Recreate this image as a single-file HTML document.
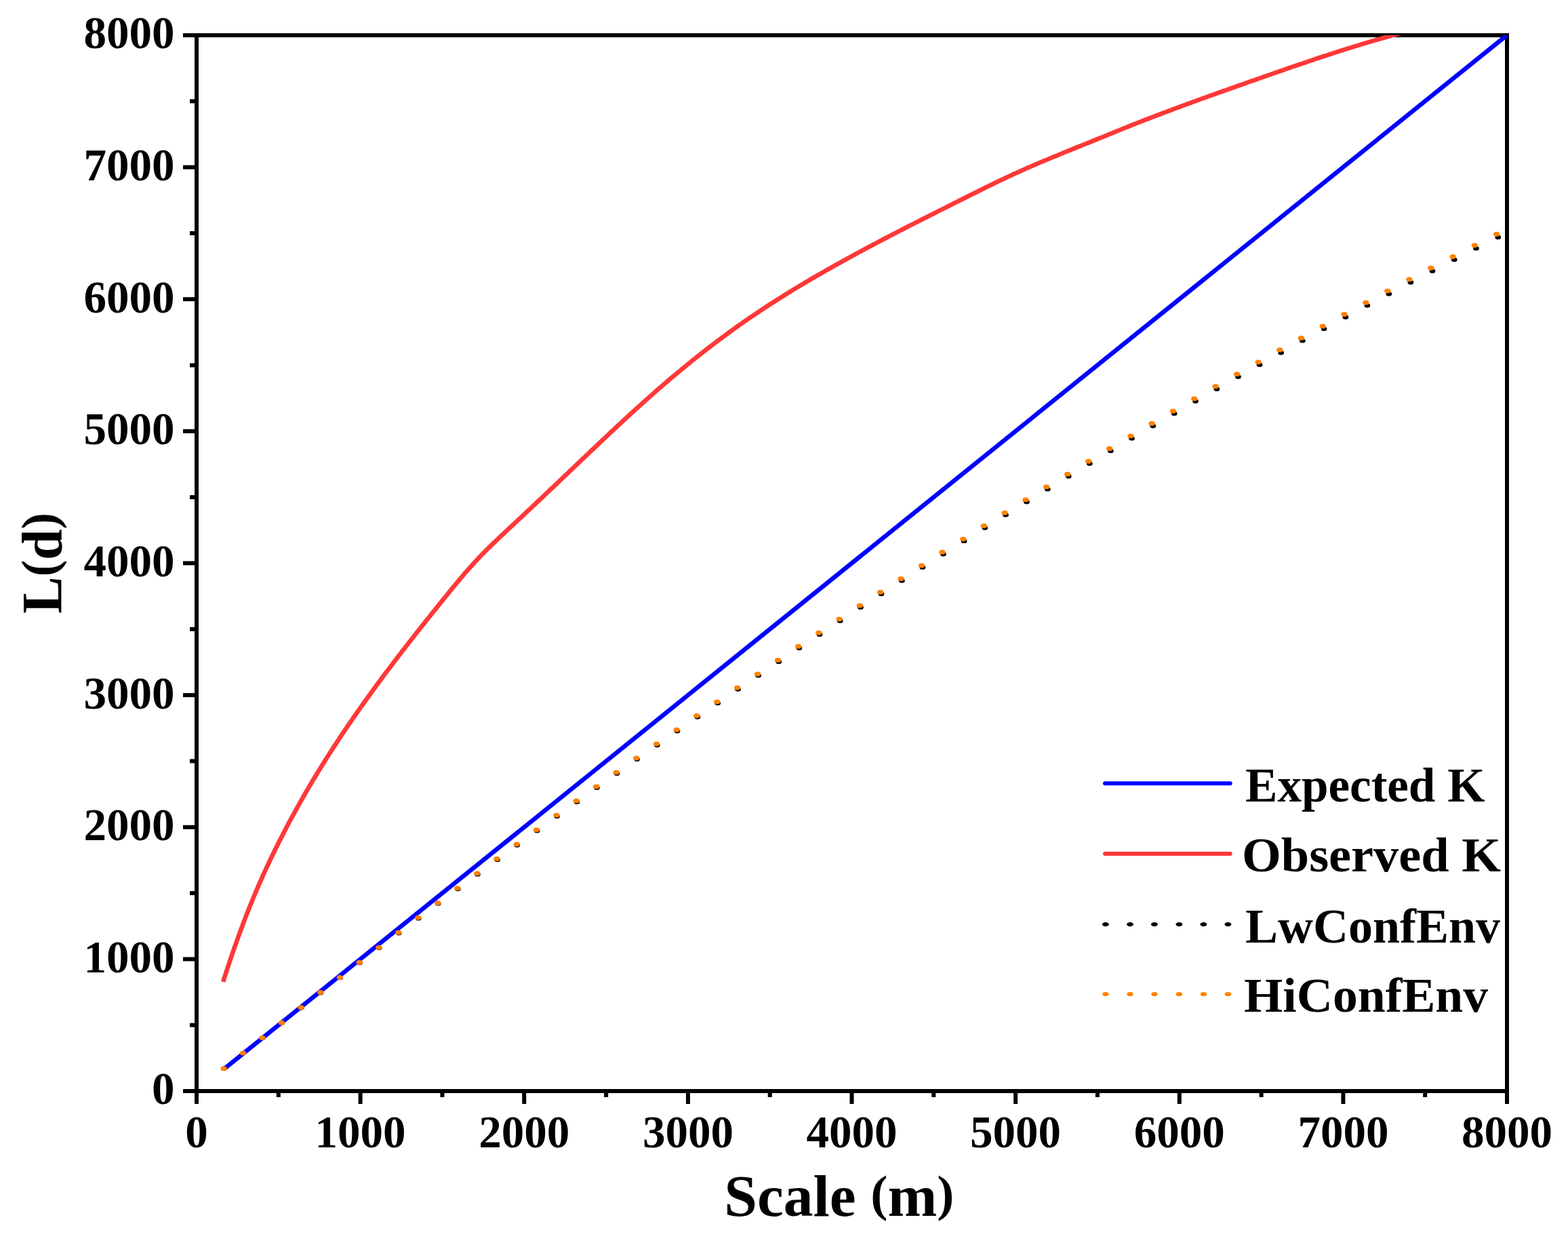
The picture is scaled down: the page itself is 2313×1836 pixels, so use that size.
<!DOCTYPE html>
<html><head><meta charset="utf-8"><title>L(d) vs Scale</title>
<style>
html,body{margin:0;padding:0;background:#fff;}
body{width:2313px;height:1836px;overflow:hidden;}
svg{display:block;}
.tk text{font-family:"Liberation Serif",serif;font-weight:bold;font-size:67px;fill:#000;}
.ttl{font-family:"Liberation Serif",serif;font-weight:bold;fill:#000;}
</style></head><body>
<svg width="2313" height="1836" viewBox="0 0 2313 1836">
<rect x="0" y="0" width="2313" height="1836" fill="#fff"/>
<g stroke="#000" stroke-width="6" stroke-linecap="butt">
<line x1="290.0" y1="1609.0" x2="290.0" y2="1628" />
<line x1="290.0" y1="1609.0" x2="270" y2="1609.0" />
<line x1="531.6" y1="1609.0" x2="531.6" y2="1628" />
<line x1="290.0" y1="1414.4" x2="270" y2="1414.4" />
<line x1="773.2" y1="1609.0" x2="773.2" y2="1628" />
<line x1="290.0" y1="1219.8" x2="270" y2="1219.8" />
<line x1="1014.9" y1="1609.0" x2="1014.9" y2="1628" />
<line x1="290.0" y1="1025.1" x2="270" y2="1025.1" />
<line x1="1256.5" y1="1609.0" x2="1256.5" y2="1628" />
<line x1="290.0" y1="830.5" x2="270" y2="830.5" />
<line x1="1498.1" y1="1609.0" x2="1498.1" y2="1628" />
<line x1="290.0" y1="635.9" x2="270" y2="635.9" />
<line x1="1739.8" y1="1609.0" x2="1739.8" y2="1628" />
<line x1="290.0" y1="441.2" x2="270" y2="441.2" />
<line x1="1981.4" y1="1609.0" x2="1981.4" y2="1628" />
<line x1="290.0" y1="246.6" x2="270" y2="246.6" />
<line x1="2223.0" y1="1609.0" x2="2223.0" y2="1628" />
<line x1="290.0" y1="52.0" x2="270" y2="52.0" />
<line x1="410.8" y1="1609.0" x2="410.8" y2="1618" />
<line x1="290.0" y1="1511.7" x2="280" y2="1511.7" />
<line x1="652.4" y1="1609.0" x2="652.4" y2="1618" />
<line x1="290.0" y1="1317.1" x2="280" y2="1317.1" />
<line x1="894.1" y1="1609.0" x2="894.1" y2="1618" />
<line x1="290.0" y1="1122.4" x2="280" y2="1122.4" />
<line x1="1135.7" y1="1609.0" x2="1135.7" y2="1618" />
<line x1="290.0" y1="927.8" x2="280" y2="927.8" />
<line x1="1377.3" y1="1609.0" x2="1377.3" y2="1618" />
<line x1="290.0" y1="733.2" x2="280" y2="733.2" />
<line x1="1618.9" y1="1609.0" x2="1618.9" y2="1618" />
<line x1="290.0" y1="538.6" x2="280" y2="538.6" />
<line x1="1860.6" y1="1609.0" x2="1860.6" y2="1618" />
<line x1="290.0" y1="343.9" x2="280" y2="343.9" />
<line x1="2102.2" y1="1609.0" x2="2102.2" y2="1618" />
<line x1="290.0" y1="149.3" x2="280" y2="149.3" />
</g>
<rect x="290.0" y="52.0" width="1933.0" height="1557.0" fill="none" stroke="#000" stroke-width="6"/>
<defs><clipPath id="pa"><rect x="290.0" y="52.0" width="1933.8" height="1557.0"/></clipPath></defs>
<g clip-path="url(#pa)">
<path d="M329.8,1577.0 L2226.0,49.4" stroke="#0000FF" stroke-width="6.5" fill="none" stroke-linecap="butt"/>
<path d="M329.5,1448.0 L330.2,1444.2 L331.4,1440.5 L332.7,1436.7 L333.9,1432.9 L335.1,1429.2 L336.4,1425.4 L337.6,1421.7 L338.9,1417.9 L340.1,1414.2 L341.4,1410.4 L342.7,1406.7 L343.9,1403.0 L345.2,1399.3 L346.5,1395.5 L347.8,1391.8 L349.2,1388.1 L350.5,1384.4 L351.8,1380.7 L353.2,1377.0 L354.5,1373.3 L355.9,1369.6 L357.3,1365.9 L358.6,1362.3 L360.0,1358.6 L361.4,1354.9 L362.8,1351.2 L364.3,1347.6 L365.7,1343.9 L367.1,1340.3 L368.6,1336.6 L370.1,1333.0 L371.6,1329.3 L373.0,1325.7 L374.5,1322.1 L376.1,1318.4 L377.6,1314.8 L379.1,1311.2 L380.7,1307.6 L382.2,1304.0 L383.8,1300.4 L385.4,1296.8 L387.0,1293.2 L388.6,1289.6 L390.2,1286.0 L391.9,1282.5 L393.5,1278.9 L395.2,1275.3 L396.9,1271.8 L398.5,1268.2 L400.2,1264.6 L401.9,1261.1 L403.7,1257.6 L405.4,1254.0 L407.1,1250.5 L408.9,1247.0 L410.6,1243.4 L412.4,1239.9 L414.2,1236.4 L416.0,1232.9 L417.8,1229.4 L419.6,1225.9 L421.4,1222.4 L423.2,1218.9 L425.1,1215.4 L426.9,1211.9 L428.8,1208.5 L430.7,1205.0 L432.6,1201.5 L434.5,1198.1 L436.4,1194.6 L438.3,1191.2 L440.2,1187.7 L442.1,1184.3 L444.1,1180.9 L446.0,1177.5 L448.0,1174.0 L449.9,1170.6 L451.9,1167.2 L453.9,1163.8 L455.9,1160.4 L457.9,1157.0 L459.9,1153.6 L461.9,1150.2 L464.0,1146.9 L466.0,1143.5 L468.1,1140.1 L470.1,1136.8 L472.2,1133.4 L474.3,1130.1 L476.3,1126.7 L478.4,1123.4 L480.5,1120.0 L482.6,1116.7 L484.8,1113.4 L486.9,1110.1 L489.0,1106.8 L491.1,1103.5 L493.3,1100.2 L495.4,1096.9 L497.6,1093.6 L499.8,1090.3 L501.9,1087.0 L504.1,1083.7 L506.3,1080.5 L508.5,1077.2 L510.7,1074.0 L512.9,1070.7 L515.1,1067.5 L517.4,1064.2 L519.6,1061.0 L521.8,1057.7 L524.1,1054.5 L526.3,1051.3 L528.6,1048.1 L530.8,1044.9 L533.1,1041.6 L535.4,1038.4 L537.7,1035.2 L540.0,1032.0 L542.3,1028.9 L544.5,1025.7 L546.9,1022.5 L549.2,1019.3 L551.5,1016.1 L553.8,1012.9 L556.1,1009.8 L558.5,1006.6 L560.8,1003.5 L563.1,1000.3 L565.5,997.1 L567.8,994.0 L570.2,990.8 L572.6,987.7 L574.9,984.6 L577.3,981.4 L579.7,978.3 L582.1,975.1 L584.4,972.0 L586.8,968.9 L589.2,965.8 L591.6,962.7 L594.0,959.5 L596.4,956.4 L598.9,953.3 L601.3,950.2 L603.7,947.1 L606.1,944.0 L608.5,940.9 L611.0,937.8 L613.4,934.7 L615.8,931.6 L618.3,928.5 L620.7,925.4 L623.2,922.3 L625.6,919.2 L628.1,916.1 L630.5,913.0 L633.0,910.0 L635.5,906.9 L637.9,903.8 L640.4,900.7 L642.9,897.6 L645.4,894.6 L647.8,891.5 L650.3,888.4 L652.8,885.3 L655.3,882.3 L657.8,879.2 L660.3,876.1 L662.8,873.1 L665.2,870.0 L667.7,866.9 L670.3,863.9 L672.8,860.8 L675.3,857.8 L677.8,854.8 L680.3,851.8 L682.9,848.8 L685.4,845.8 L688.0,842.9 L690.6,839.9 L693.2,837.0 L695.8,834.1 L698.4,831.2 L701.1,828.3 L703.7,825.5 L706.4,822.6 L709.1,819.8 L711.8,817.0 L714.5,814.2 L717.3,811.5 L720.1,808.7 L722.9,806.0 L725.7,803.2 L728.5,800.5 L731.3,797.8 L734.2,795.1 L737.0,792.4 L739.9,789.7 L742.8,787.0 L745.6,784.3 L748.5,781.6 L751.4,778.9 L754.3,776.3 L757.2,773.6 L760.1,770.9 L762.9,768.2 L765.8,765.5 L768.7,762.8 L771.6,760.1 L774.4,757.4 L777.3,754.7 L780.2,752.0 L783.1,749.3 L785.9,746.6 L788.8,743.9 L791.7,741.2 L794.5,738.5 L797.4,735.8 L800.3,733.1 L803.1,730.4 L806.0,727.6 L808.9,724.9 L811.7,722.2 L814.6,719.5 L817.5,716.8 L820.3,714.1 L823.2,711.3 L826.0,708.6 L828.9,705.9 L831.8,703.2 L834.6,700.5 L837.5,697.8 L840.3,695.0 L843.2,692.3 L846.0,689.6 L848.9,686.9 L851.7,684.2 L854.6,681.5 L857.4,678.7 L860.3,676.0 L863.2,673.3 L866.0,670.6 L868.9,667.9 L871.7,665.2 L874.6,662.5 L877.4,659.8 L880.3,657.1 L883.1,654.3 L886.0,651.6 L888.9,648.9 L891.7,646.2 L894.6,643.6 L897.5,640.9 L900.3,638.2 L903.2,635.5 L906.1,632.8 L908.9,630.1 L911.8,627.4 L914.7,624.8 L917.6,622.1 L920.5,619.4 L923.4,616.8 L926.3,614.1 L929.2,611.4 L932.1,608.8 L935.0,606.1 L937.9,603.5 L940.8,600.8 L943.7,598.2 L946.6,595.6 L949.5,593.0 L952.5,590.3 L955.4,587.7 L958.3,585.1 L961.3,582.5 L964.2,579.9 L967.2,577.3 L970.1,574.7 L973.1,572.1 L976.1,569.6 L979.0,567.0 L982.0,564.4 L985.0,561.9 L988.0,559.3 L991.0,556.8 L994.0,554.2 L997.0,551.7 L1000.0,549.2 L1003.1,546.7 L1006.1,544.2 L1009.1,541.7 L1012.2,539.2 L1015.2,536.7 L1018.3,534.2 L1021.3,531.7 L1024.4,529.3 L1027.5,526.8 L1030.6,524.4 L1033.7,521.9 L1036.8,519.5 L1039.9,517.1 L1043.0,514.7 L1046.1,512.3 L1049.2,509.9 L1052.3,507.5 L1055.5,505.1 L1058.6,502.7 L1061.8,500.4 L1064.9,498.0 L1068.1,495.7 L1071.3,493.3 L1074.4,491.0 L1077.6,488.7 L1080.8,486.4 L1084.0,484.1 L1087.2,481.8 L1090.4,479.5 L1093.6,477.3 L1096.9,475.0 L1100.1,472.8 L1103.3,470.5 L1106.6,468.3 L1109.8,466.1 L1113.1,463.9 L1116.3,461.7 L1119.6,459.5 L1122.9,457.3 L1126.2,455.2 L1129.4,453.0 L1132.7,450.9 L1136.0,448.7 L1139.4,446.6 L1142.7,444.5 L1146.0,442.4 L1149.3,440.3 L1152.6,438.2 L1156.0,436.1 L1159.3,434.0 L1162.7,431.9 L1166.0,429.9 L1169.4,427.8 L1172.7,425.8 L1176.1,423.7 L1179.5,421.7 L1182.8,419.7 L1186.2,417.7 L1189.6,415.7 L1193.0,413.7 L1196.4,411.7 L1199.8,409.7 L1203.2,407.7 L1206.6,405.7 L1210.0,403.8 L1213.4,401.8 L1216.8,399.9 L1220.3,397.9 L1223.7,396.0 L1227.1,394.1 L1230.5,392.1 L1234.0,390.2 L1237.4,388.3 L1240.9,386.4 L1244.3,384.5 L1247.8,382.6 L1251.2,380.7 L1254.7,378.8 L1258.1,376.9 L1261.6,375.0 L1265.0,373.1 L1268.5,371.3 L1272.0,369.4 L1275.5,367.5 L1278.9,365.7 L1282.4,363.8 L1285.9,362.0 L1289.4,360.1 L1292.8,358.3 L1296.3,356.5 L1299.8,354.6 L1303.3,352.8 L1306.8,351.0 L1310.3,349.2 L1313.8,347.3 L1317.3,345.5 L1320.8,343.7 L1324.3,341.9 L1327.8,340.1 L1331.3,338.3 L1334.7,336.5 L1338.2,334.7 L1341.7,332.9 L1345.3,331.1 L1348.8,329.4 L1352.3,327.6 L1355.8,325.8 L1359.3,324.0 L1362.8,322.2 L1366.3,320.5 L1369.8,318.7 L1373.3,316.9 L1376.8,315.2 L1380.3,313.4 L1383.8,311.6 L1387.3,309.9 L1390.8,308.1 L1394.3,306.4 L1397.8,304.6 L1401.3,302.8 L1404.8,301.1 L1408.3,299.3 L1411.8,297.6 L1415.4,295.8 L1418.9,294.0 L1422.4,292.3 L1425.9,290.5 L1429.4,288.7 L1432.9,287.0 L1436.5,285.2 L1440.0,283.5 L1443.5,281.7 L1447.1,279.9 L1450.6,278.2 L1454.1,276.4 L1457.7,274.7 L1461.2,273.0 L1464.7,271.2 L1468.3,269.5 L1471.8,267.8 L1475.4,266.1 L1479.0,264.4 L1482.5,262.7 L1486.1,261.1 L1489.6,259.4 L1493.2,257.8 L1496.8,256.1 L1500.4,254.5 L1504.0,252.9 L1507.5,251.3 L1511.1,249.7 L1514.7,248.1 L1518.3,246.5 L1521.9,245.0 L1525.5,243.4 L1529.1,241.9 L1532.7,240.3 L1536.3,238.8 L1539.9,237.3 L1543.6,235.8 L1547.2,234.3 L1550.8,232.7 L1554.4,231.2 L1558.0,229.8 L1561.7,228.3 L1565.3,226.8 L1568.9,225.3 L1572.6,223.8 L1576.2,222.3 L1579.8,220.9 L1583.5,219.4 L1587.1,217.9 L1590.8,216.4 L1594.4,215.0 L1598.1,213.5 L1601.7,212.0 L1605.3,210.6 L1609.0,209.1 L1612.6,207.6 L1616.3,206.1 L1619.9,204.7 L1623.6,203.2 L1627.3,201.7 L1630.9,200.2 L1634.6,198.7 L1638.2,197.2 L1641.9,195.7 L1645.5,194.3 L1649.2,192.8 L1652.9,191.3 L1656.5,189.8 L1660.2,188.3 L1663.8,186.9 L1667.5,185.4 L1671.2,183.9 L1674.8,182.5 L1678.5,181.0 L1682.2,179.6 L1685.8,178.2 L1689.5,176.7 L1693.2,175.3 L1696.8,173.9 L1700.5,172.5 L1704.2,171.1 L1707.8,169.7 L1711.5,168.3 L1715.2,166.9 L1718.9,165.5 L1722.5,164.1 L1726.2,162.8 L1729.9,161.4 L1733.6,160.0 L1737.3,158.7 L1740.9,157.3 L1744.6,155.9 L1748.3,154.6 L1752.0,153.2 L1755.7,151.9 L1759.4,150.5 L1763.1,149.2 L1766.7,147.9 L1770.4,146.5 L1774.1,145.2 L1777.8,143.9 L1781.5,142.5 L1785.2,141.2 L1788.9,139.9 L1792.6,138.6 L1796.3,137.2 L1800.0,135.9 L1803.7,134.6 L1807.4,133.3 L1811.1,132.0 L1814.8,130.7 L1818.5,129.4 L1822.2,128.1 L1825.9,126.7 L1829.6,125.4 L1833.3,124.1 L1837.0,122.8 L1840.7,121.5 L1844.4,120.2 L1848.2,118.9 L1851.9,117.6 L1855.6,116.3 L1859.3,115.0 L1863.0,113.7 L1866.7,112.4 L1870.5,111.1 L1874.2,109.8 L1877.9,108.5 L1881.6,107.2 L1885.4,105.9 L1889.1,104.6 L1892.8,103.3 L1896.5,102.0 L1900.3,100.7 L1904.0,99.4 L1907.7,98.2 L1911.5,96.9 L1915.2,95.6 L1918.9,94.3 L1922.7,93.1 L1926.4,91.8 L1930.1,90.5 L1933.9,89.3 L1937.6,88.0 L1941.4,86.7 L1945.1,85.5 L1948.9,84.2 L1952.6,83.0 L1956.4,81.8 L1960.1,80.5 L1963.9,79.3 L1967.6,78.1 L1971.4,76.9 L1975.1,75.7 L1978.9,74.5 L1982.6,73.3 L1986.4,72.1 L1990.2,70.9 L1993.9,69.8 L1997.7,68.6 L2001.5,67.4 L2005.2,66.3 L2009.0,65.1 L2012.8,64.0 L2016.5,62.9 L2020.3,61.8 L2024.1,60.7 L2027.9,59.6 L2031.6,58.5 L2035.4,57.4 L2039.2,56.3 L2043.0,55.3 L2046.8,54.2 L2050.5,53.2 L2054.3,52.1 L2058.1,51.1 L2061.9,50.1 L2065.7,49.1 L2069.5,48.1 L2073.3,47.1 L2077.1,46.2 L2080.9,45.2 L2084.7,44.3 L2088.5,43.3 L2092.3,42.4 L2096.1,41.5 L2100.0,40.3" stroke="#FF3838" stroke-width="6.6" fill="none" stroke-linejoin="round" stroke-linecap="butt"/>
<g><ellipse cx="330.2" cy="1575.7" rx="4.3500000000000005" ry="3.2" fill="#000"/>
<ellipse cx="358.7" cy="1553.3" rx="4.3500000000000005" ry="3.2" fill="#000"/>
<ellipse cx="387.2" cy="1530.9" rx="4.3500000000000005" ry="3.2" fill="#000"/>
<ellipse cx="415.7" cy="1508.6" rx="4.3500000000000005" ry="3.2" fill="#000"/>
<ellipse cx="444.3" cy="1486.3" rx="4.3500000000000005" ry="3.2" fill="#000"/>
<ellipse cx="473.0" cy="1464.2" rx="4.3500000000000005" ry="3.2" fill="#000"/>
<ellipse cx="501.7" cy="1442.0" rx="4.3500000000000005" ry="3.2" fill="#000"/>
<ellipse cx="530.5" cy="1420.0" rx="4.3500000000000005" ry="3.2" fill="#000"/>
<ellipse cx="559.3" cy="1398.1" rx="4.3500000000000005" ry="3.2" fill="#000"/>
<ellipse cx="588.2" cy="1376.2" rx="4.3500000000000005" ry="3.2" fill="#000"/>
<ellipse cx="617.2" cy="1354.4" rx="4.3500000000000005" ry="3.2" fill="#000"/>
<ellipse cx="646.2" cy="1332.6" rx="4.3500000000000005" ry="3.2" fill="#000"/>
<ellipse cx="675.3" cy="1311.0" rx="4.3500000000000005" ry="3.2" fill="#000"/>
<ellipse cx="704.4" cy="1289.4" rx="4.3500000000000005" ry="3.2" fill="#000"/>
<ellipse cx="733.6" cy="1267.9" rx="4.3500000000000005" ry="3.2" fill="#000"/>
<ellipse cx="762.8" cy="1246.5" rx="4.3500000000000005" ry="3.2" fill="#000"/>
<ellipse cx="792.1" cy="1225.2" rx="4.3500000000000005" ry="3.2" fill="#000"/>
<ellipse cx="821.5" cy="1203.9" rx="4.3500000000000005" ry="3.2" fill="#000"/>
<ellipse cx="850.9" cy="1182.8" rx="4.3500000000000005" ry="3.2" fill="#000"/>
<ellipse cx="880.4" cy="1161.7" rx="4.3500000000000005" ry="3.2" fill="#000"/>
<ellipse cx="910.0" cy="1140.7" rx="4.3500000000000005" ry="3.2" fill="#000"/>
<ellipse cx="939.6" cy="1119.8" rx="4.3500000000000005" ry="3.2" fill="#000"/>
<ellipse cx="969.3" cy="1099.0" rx="4.3500000000000005" ry="3.2" fill="#000"/>
<ellipse cx="999.0" cy="1078.3" rx="4.3500000000000005" ry="3.2" fill="#000"/>
<ellipse cx="1028.8" cy="1057.6" rx="4.3500000000000005" ry="3.2" fill="#000"/>
<ellipse cx="1058.7" cy="1037.1" rx="4.3500000000000005" ry="3.2" fill="#000"/>
<ellipse cx="1088.6" cy="1016.6" rx="4.3500000000000005" ry="3.2" fill="#000"/>
<ellipse cx="1118.6" cy="996.2" rx="4.3500000000000005" ry="3.2" fill="#000"/>
<ellipse cx="1148.7" cy="976.0" rx="4.3500000000000005" ry="3.2" fill="#000"/>
<ellipse cx="1178.8" cy="955.8" rx="4.3500000000000005" ry="3.2" fill="#000"/>
<ellipse cx="1209.0" cy="935.7" rx="4.3500000000000005" ry="3.2" fill="#000"/>
<ellipse cx="1239.2" cy="915.7" rx="4.3500000000000005" ry="3.2" fill="#000"/>
<ellipse cx="1269.5" cy="895.8" rx="4.3500000000000005" ry="3.2" fill="#000"/>
<ellipse cx="1299.9" cy="876.0" rx="4.3500000000000005" ry="3.2" fill="#000"/>
<ellipse cx="1330.3" cy="856.4" rx="4.3500000000000005" ry="3.2" fill="#000"/>
<ellipse cx="1360.9" cy="836.8" rx="4.3500000000000005" ry="3.2" fill="#000"/>
<ellipse cx="1391.4" cy="817.3" rx="4.3500000000000005" ry="3.2" fill="#000"/>
<ellipse cx="1422.1" cy="797.9" rx="4.3500000000000005" ry="3.2" fill="#000"/>
<ellipse cx="1452.8" cy="778.6" rx="4.3500000000000005" ry="3.2" fill="#000"/>
<ellipse cx="1483.5" cy="759.4" rx="4.3500000000000005" ry="3.2" fill="#000"/>
<ellipse cx="1514.4" cy="740.3" rx="4.3500000000000005" ry="3.2" fill="#000"/>
<ellipse cx="1545.3" cy="721.4" rx="4.3500000000000005" ry="3.2" fill="#000"/>
<ellipse cx="1576.2" cy="702.5" rx="4.3500000000000005" ry="3.2" fill="#000"/>
<ellipse cx="1607.3" cy="683.8" rx="4.3500000000000005" ry="3.2" fill="#000"/>
<ellipse cx="1638.4" cy="665.1" rx="4.3500000000000005" ry="3.2" fill="#000"/>
<ellipse cx="1669.5" cy="646.6" rx="4.3500000000000005" ry="3.2" fill="#000"/>
<ellipse cx="1700.8" cy="628.2" rx="4.3500000000000005" ry="3.2" fill="#000"/>
<ellipse cx="1732.1" cy="609.9" rx="4.3500000000000005" ry="3.2" fill="#000"/>
<ellipse cx="1763.5" cy="591.7" rx="4.3500000000000005" ry="3.2" fill="#000"/>
<ellipse cx="1794.9" cy="573.7" rx="4.3500000000000005" ry="3.2" fill="#000"/>
<ellipse cx="1826.4" cy="555.7" rx="4.3500000000000005" ry="3.2" fill="#000"/>
<ellipse cx="1858.0" cy="537.9" rx="4.3500000000000005" ry="3.2" fill="#000"/>
<ellipse cx="1889.6" cy="520.2" rx="4.3500000000000005" ry="3.2" fill="#000"/>
<ellipse cx="1921.3" cy="502.6" rx="4.3500000000000005" ry="3.2" fill="#000"/>
<ellipse cx="1953.1" cy="485.1" rx="4.3500000000000005" ry="3.2" fill="#000"/>
<ellipse cx="1984.9" cy="467.8" rx="4.3500000000000005" ry="3.2" fill="#000"/>
<ellipse cx="2016.9" cy="450.6" rx="4.3500000000000005" ry="3.2" fill="#000"/>
<ellipse cx="2048.8" cy="433.5" rx="4.3500000000000005" ry="3.2" fill="#000"/>
<ellipse cx="2080.9" cy="416.5" rx="4.3500000000000005" ry="3.2" fill="#000"/>
<ellipse cx="2113.0" cy="399.7" rx="4.3500000000000005" ry="3.2" fill="#000"/>
<ellipse cx="2145.2" cy="383.0" rx="4.3500000000000005" ry="3.2" fill="#000"/>
<ellipse cx="2177.5" cy="366.4" rx="4.3500000000000005" ry="3.2" fill="#000"/>
<ellipse cx="2209.8" cy="350.0" rx="4.3500000000000005" ry="3.2" fill="#000"/></g>
<g><ellipse cx="330.2" cy="1575.7" rx="4.65" ry="3.5" fill="#FF8000"/>
<ellipse cx="358.6" cy="1553.1" rx="4.65" ry="3.5" fill="#FF8000"/>
<ellipse cx="387.0" cy="1530.6" rx="4.65" ry="3.5" fill="#FF8000"/>
<ellipse cx="415.5" cy="1508.2" rx="4.65" ry="3.5" fill="#FF8000"/>
<ellipse cx="444.1" cy="1485.8" rx="4.65" ry="3.5" fill="#FF8000"/>
<ellipse cx="472.7" cy="1463.6" rx="4.65" ry="3.5" fill="#FF8000"/>
<ellipse cx="501.4" cy="1441.4" rx="4.65" ry="3.5" fill="#FF8000"/>
<ellipse cx="530.1" cy="1419.2" rx="4.65" ry="3.5" fill="#FF8000"/>
<ellipse cx="558.9" cy="1397.2" rx="4.65" ry="3.5" fill="#FF8000"/>
<ellipse cx="587.8" cy="1375.2" rx="4.65" ry="3.5" fill="#FF8000"/>
<ellipse cx="616.7" cy="1353.3" rx="4.65" ry="3.5" fill="#FF8000"/>
<ellipse cx="645.7" cy="1331.5" rx="4.65" ry="3.5" fill="#FF8000"/>
<ellipse cx="674.7" cy="1309.8" rx="4.65" ry="3.5" fill="#FF8000"/>
<ellipse cx="703.8" cy="1288.1" rx="4.65" ry="3.5" fill="#FF8000"/>
<ellipse cx="732.9" cy="1266.6" rx="4.65" ry="3.5" fill="#FF8000"/>
<ellipse cx="762.2" cy="1245.1" rx="4.65" ry="3.5" fill="#FF8000"/>
<ellipse cx="791.4" cy="1223.7" rx="4.65" ry="3.5" fill="#FF8000"/>
<ellipse cx="820.8" cy="1202.3" rx="4.65" ry="3.5" fill="#FF8000"/>
<ellipse cx="850.2" cy="1181.1" rx="4.65" ry="3.5" fill="#FF8000"/>
<ellipse cx="879.6" cy="1160.0" rx="4.65" ry="3.5" fill="#FF8000"/>
<ellipse cx="909.1" cy="1138.9" rx="4.65" ry="3.5" fill="#FF8000"/>
<ellipse cx="938.7" cy="1117.9" rx="4.65" ry="3.5" fill="#FF8000"/>
<ellipse cx="968.4" cy="1097.0" rx="4.65" ry="3.5" fill="#FF8000"/>
<ellipse cx="998.1" cy="1076.2" rx="4.65" ry="3.5" fill="#FF8000"/>
<ellipse cx="1027.8" cy="1055.5" rx="4.65" ry="3.5" fill="#FF8000"/>
<ellipse cx="1057.7" cy="1034.9" rx="4.65" ry="3.5" fill="#FF8000"/>
<ellipse cx="1087.6" cy="1014.3" rx="4.65" ry="3.5" fill="#FF8000"/>
<ellipse cx="1117.5" cy="993.9" rx="4.65" ry="3.5" fill="#FF8000"/>
<ellipse cx="1147.5" cy="973.6" rx="4.65" ry="3.5" fill="#FF8000"/>
<ellipse cx="1177.6" cy="953.3" rx="4.65" ry="3.5" fill="#FF8000"/>
<ellipse cx="1207.8" cy="933.2" rx="4.65" ry="3.5" fill="#FF8000"/>
<ellipse cx="1238.0" cy="913.1" rx="4.65" ry="3.5" fill="#FF8000"/>
<ellipse cx="1268.3" cy="893.1" rx="4.65" ry="3.5" fill="#FF8000"/>
<ellipse cx="1298.6" cy="873.3" rx="4.65" ry="3.5" fill="#FF8000"/>
<ellipse cx="1329.0" cy="853.5" rx="4.65" ry="3.5" fill="#FF8000"/>
<ellipse cx="1359.5" cy="833.9" rx="4.65" ry="3.5" fill="#FF8000"/>
<ellipse cx="1390.0" cy="814.3" rx="4.65" ry="3.5" fill="#FF8000"/>
<ellipse cx="1420.7" cy="794.9" rx="4.65" ry="3.5" fill="#FF8000"/>
<ellipse cx="1451.3" cy="775.5" rx="4.65" ry="3.5" fill="#FF8000"/>
<ellipse cx="1482.1" cy="756.3" rx="4.65" ry="3.5" fill="#FF8000"/>
<ellipse cx="1512.9" cy="737.1" rx="4.65" ry="3.5" fill="#FF8000"/>
<ellipse cx="1543.7" cy="718.1" rx="4.65" ry="3.5" fill="#FF8000"/>
<ellipse cx="1574.7" cy="699.2" rx="4.65" ry="3.5" fill="#FF8000"/>
<ellipse cx="1605.7" cy="680.3" rx="4.65" ry="3.5" fill="#FF8000"/>
<ellipse cx="1636.7" cy="661.6" rx="4.65" ry="3.5" fill="#FF8000"/>
<ellipse cx="1667.9" cy="643.1" rx="4.65" ry="3.5" fill="#FF8000"/>
<ellipse cx="1699.1" cy="624.6" rx="4.65" ry="3.5" fill="#FF8000"/>
<ellipse cx="1730.4" cy="606.2" rx="4.65" ry="3.5" fill="#FF8000"/>
<ellipse cx="1761.7" cy="588.0" rx="4.65" ry="3.5" fill="#FF8000"/>
<ellipse cx="1793.1" cy="569.8" rx="4.65" ry="3.5" fill="#FF8000"/>
<ellipse cx="1824.6" cy="551.8" rx="4.65" ry="3.5" fill="#FF8000"/>
<ellipse cx="1856.1" cy="533.9" rx="4.65" ry="3.5" fill="#FF8000"/>
<ellipse cx="1887.7" cy="516.1" rx="4.65" ry="3.5" fill="#FF8000"/>
<ellipse cx="1919.4" cy="498.5" rx="4.65" ry="3.5" fill="#FF8000"/>
<ellipse cx="1951.2" cy="481.0" rx="4.65" ry="3.5" fill="#FF8000"/>
<ellipse cx="1983.0" cy="463.6" rx="4.65" ry="3.5" fill="#FF8000"/>
<ellipse cx="2014.9" cy="446.3" rx="4.65" ry="3.5" fill="#FF8000"/>
<ellipse cx="2046.8" cy="429.1" rx="4.65" ry="3.5" fill="#FF8000"/>
<ellipse cx="2078.8" cy="412.1" rx="4.65" ry="3.5" fill="#FF8000"/>
<ellipse cx="2110.9" cy="395.2" rx="4.65" ry="3.5" fill="#FF8000"/>
<ellipse cx="2143.1" cy="378.4" rx="4.65" ry="3.5" fill="#FF8000"/>
<ellipse cx="2175.3" cy="361.8" rx="4.65" ry="3.5" fill="#FF8000"/>
<ellipse cx="2207.6" cy="345.3" rx="4.65" ry="3.5" fill="#FF8000"/></g>
</g>
<g class="tk">
<text x="257.5" y="1628.4" text-anchor="end">0</text>
<text x="290.0" y="1692.3" text-anchor="middle">0</text>
<text x="257.5" y="1433.8" text-anchor="end">1000</text>
<text x="531.6" y="1692.3" text-anchor="middle">1000</text>
<text x="257.5" y="1239.2" text-anchor="end">2000</text>
<text x="773.2" y="1692.3" text-anchor="middle">2000</text>
<text x="257.5" y="1044.5" text-anchor="end">3000</text>
<text x="1014.9" y="1692.3" text-anchor="middle">3000</text>
<text x="257.5" y="849.9" text-anchor="end">4000</text>
<text x="1256.5" y="1692.3" text-anchor="middle">4000</text>
<text x="257.5" y="655.3" text-anchor="end">5000</text>
<text x="1498.1" y="1692.3" text-anchor="middle">5000</text>
<text x="257.5" y="460.6" text-anchor="end">6000</text>
<text x="1739.8" y="1692.3" text-anchor="middle">6000</text>
<text x="257.5" y="266.0" text-anchor="end">7000</text>
<text x="1981.4" y="1692.3" text-anchor="middle">7000</text>
<text x="257.5" y="71.4" text-anchor="end">8000</text>
<text x="2223.0" y="1692.3" text-anchor="middle">8000</text>
</g>
<text class="ttl" x="1068.3" y="1793.4" font-size="87" textLength="339" lengthAdjust="spacingAndGlyphs">Scale <tspan font-size="75" dy="-8.6">(</tspan><tspan dy="8.6">m</tspan><tspan font-size="75" dy="-8.6">)</tspan></text>
<text class="ttl" transform="translate(90.5,905) rotate(-90)" x="0" y="0" font-size="84.5" textLength="149" lengthAdjust="spacingAndGlyphs">L<tspan font-size="75" dy="-7.5">(</tspan><tspan dy="7.5">d</tspan><tspan font-size="75" dy="-7.5">)</tspan></text>
<line x1="1630" y1="1155.3" x2="1814.7" y2="1155.3" stroke="#0000FF" stroke-width="6" stroke-linecap="round"/>
<line x1="1630" y1="1259" x2="1814.7" y2="1259" stroke="#FF3838" stroke-width="6" stroke-linecap="round"/>
<ellipse cx="1630.9" cy="1363.1" rx="5" ry="3.1" fill="#000"/>
<ellipse cx="1667" cy="1363.1" rx="5" ry="3.1" fill="#000"/>
<ellipse cx="1702.9" cy="1363.1" rx="5" ry="3.1" fill="#000"/>
<ellipse cx="1739.4" cy="1363.1" rx="5" ry="3.1" fill="#000"/>
<ellipse cx="1775.4" cy="1363.1" rx="5" ry="3.1" fill="#000"/>
<ellipse cx="1811.4" cy="1363.1" rx="5" ry="3.1" fill="#000"/>
<ellipse cx="1630.9" cy="1466" rx="4.7" ry="3.1" fill="#FF8000"/>
<ellipse cx="1667" cy="1466" rx="4.7" ry="3.1" fill="#FF8000"/>
<ellipse cx="1702.9" cy="1466" rx="4.7" ry="3.1" fill="#FF8000"/>
<ellipse cx="1739.4" cy="1466" rx="4.7" ry="3.1" fill="#FF8000"/>
<ellipse cx="1775.4" cy="1466" rx="4.7" ry="3.1" fill="#FF8000"/>
<ellipse cx="1811.4" cy="1466" rx="4.7" ry="3.1" fill="#FF8000"/>
<text class="ttl" x="1837" y="1181.6" font-size="71" textLength="353.5" lengthAdjust="spacingAndGlyphs">Expected K</text>
<text class="ttl" x="1832" y="1285.3" font-size="71" textLength="382" lengthAdjust="spacingAndGlyphs">Observed K</text>
<text class="ttl" x="1837" y="1389.5" font-size="71" textLength="376" lengthAdjust="spacingAndGlyphs">LwConfEnv</text>
<text class="ttl" x="1835" y="1491.8" font-size="71" textLength="360" lengthAdjust="spacingAndGlyphs">HiConfEnv</text>
</svg>
</body></html>
